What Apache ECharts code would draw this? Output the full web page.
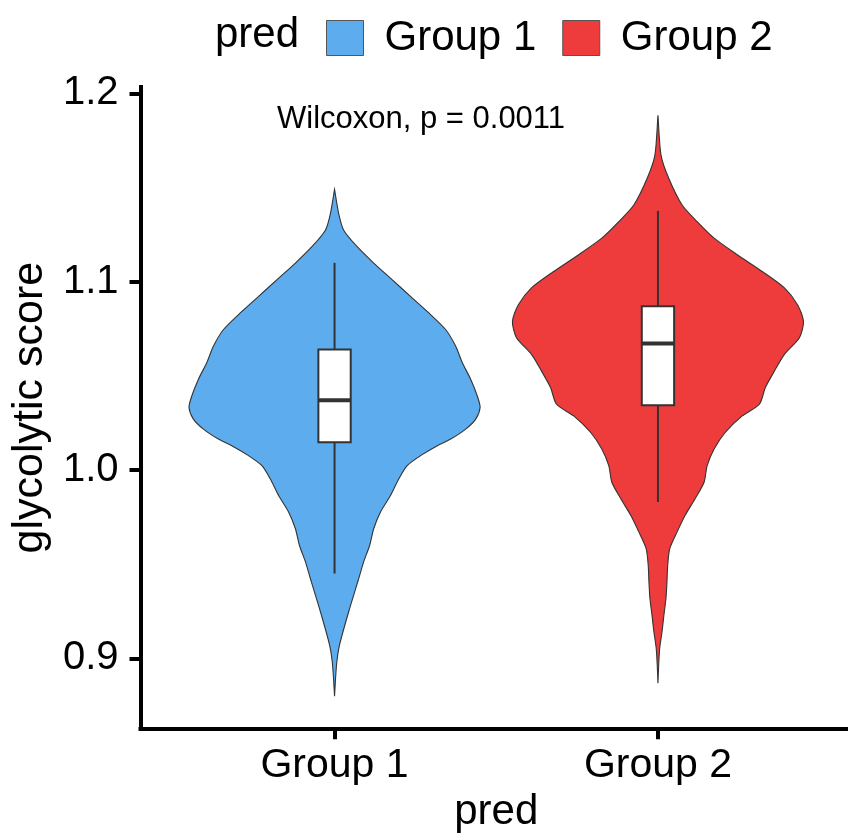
<!DOCTYPE html>
<html>
<head>
<meta charset="utf-8">
<title>glycolytic score by pred</title>
<script src="https://cdn.jsdelivr.net/npm/echarts@6/dist/echarts.min.js"></script>
<style>
  html, body { margin: 0; padding: 0; background: #ffffff; }
  #chart { width: 848px; height: 834px; }
</style>
</head>
<body>
<div id="chart"></div>
<script>
// Groups shown on the x axis and in the legend
const categories = ['Group 1', 'Group 2'];
const groupColors = ['#5CACEE', '#EE3B3B'];

// Kernel density profile of each group: score value -> relative density (peak = 1)
const group1Values = [1.1490, 1.1363, 1.1275, 1.1187, 1.1099, 1.1011, 1.0922, 1.0834, 1.0746, 1.0658,
  1.0570, 1.0481, 1.0393, 1.0332, 1.0270, 1.0217, 1.0164, 1.0129, 1.0076, 1.0023,
  0.9952, 0.9864, 0.9776, 0.9688, 0.9599, 0.9512, 0.9423, 0.9247, 0.9070, 0.8983, 0.8894, 0.8799];
const group1Density = [0, 0.028, 0.062, 0.154, 0.269, 0.395, 0.522, 0.648, 0.763, 0.832,
  0.878, 0.936, 0.981, 1.0, 0.970, 0.901, 0.798, 0.706, 0.591, 0.499,
  0.441, 0.384, 0.315, 0.269, 0.241, 0.200, 0.166, 0.097, 0.034, 0.016, 0.007, 0];

const group2Values = [1.1884, 1.1672, 1.1549, 1.1407, 1.1319, 1.1231, 1.1143, 1.1054, 1.0967, 1.0878,
  1.0790, 1.0702, 1.0614, 1.0525, 1.0438, 1.0349, 1.0287, 1.0199, 1.0111, 1.0023,
  0.9935, 0.9847, 0.9758, 0.9670, 0.9582, 0.9494, 0.9406, 0.9317, 0.9229, 0.9141,
  0.9053, 0.8965, 0.8868];
const group2Density = [0, 0.021, 0.074, 0.166, 0.269, 0.386, 0.545, 0.717, 0.869, 0.959,
  1.0, 0.972, 0.869, 0.800, 0.738, 0.697, 0.579, 0.462, 0.386, 0.338,
  0.317, 0.255, 0.186, 0.131, 0.081, 0.067, 0.062, 0.055, 0.041, 0.028,
  0.012, 0.005, 0];

// Box statistics: [lower whisker, Q1, median, Q3, upper whisker]
const group1Box = [0.945, 1.0147, 1.037, 1.064, 1.110];
const group2Box = [0.983, 1.0344, 1.0672, 1.0869, 1.1376];

// Axis ticks and test annotation
const yTicks = [0.9, 1.0, 1.1, 1.2];
const xTicks = [1, 2];
const testLabel = 'Wilcoxon, p = 0.0011';

const FONT = '"Liberation Sans", Arial, Helvetica, sans-serif';
const VIOLIN_HALF = 0.45;   // half of the violin width in category units
const BOX_HALF = 0.05;      // half of the box width in category units

const profiles = [
  { values: group1Values, density: group1Density, box: group1Box },
  { values: group2Values, density: group2Density, box: group2Box }
];

function violinRenderer(profile) {
  return function (params, api) {
    const cx = api.value(0);
    const right = [];
    const left = [];
    for (let i = 0; i < profile.values.length; i++) {
      const w = VIOLIN_HALF * profile.density[i];
      right.push(api.coord([cx + w, profile.values[i]]));
      left.push(api.coord([cx - w, profile.values[i]]));
    }
    const points = right.concat(left.reverse());
    return {
      type: 'polygon',
      shape: { points: points, smooth: 0.25 },
      style: { fill: api.visual('color'), stroke: '#333333', lineWidth: 1.1 }
    };
  };
}

function boxRenderer(params, api) {
  const cx = api.value(0);
  const b = profiles[params.dataIndex].box;
  const stroke = '#333333';
  const tl = api.coord([cx - BOX_HALF, b[3]]);
  const br = api.coord([cx + BOX_HALF, b[1]]);
  const top = api.coord([cx, b[4]]);
  const q3 = api.coord([cx, b[3]]);
  const q1 = api.coord([cx, b[1]]);
  const low = api.coord([cx, b[0]]);
  const medL = api.coord([cx - BOX_HALF, b[2]]);
  const medR = api.coord([cx + BOX_HALF, b[2]]);
  return {
    type: 'group',
    children: [
      { type: 'line', shape: { x1: top[0], y1: top[1], x2: q3[0], y2: q3[1] },
        style: { stroke: stroke, lineWidth: 2 } },
      { type: 'line', shape: { x1: q1[0], y1: q1[1], x2: low[0], y2: low[1] },
        style: { stroke: stroke, lineWidth: 2 } },
      { type: 'rect', shape: { x: tl[0], y: tl[1], width: br[0] - tl[0], height: br[1] - tl[1] },
        style: { fill: '#ffffff', stroke: stroke, lineWidth: 2 } },
      { type: 'line', shape: { x1: medL[0], y1: medL[1], x2: medR[0], y2: medR[1] },
        style: { stroke: stroke, lineWidth: 4 } }
    ]
  };
}

const chart = echarts.init(document.getElementById('chart'), null, { renderer: 'canvas' });

const axisLine = { show: true, lineStyle: { color: '#000', width: 4, cap: 'square' } };
const axisTick = { show: true, inside: false, length: 11, lineStyle: { color: '#000', width: 4 } };

const option = {
  backgroundColor: '#ffffff',
  animation: false,
  textStyle: { fontFamily: FONT },
  title: {
    text: 'pred',
    left: 210,
    top: 9,
    textStyle: { fontFamily: FONT, fontSize: 42, fontWeight: 'normal', color: '#000' }
  },
  legend: {
    data: categories,
    left: 321,
    top: 12,
    icon: 'rect',
    itemWidth: 37,
    itemHeight: 35,
    itemGap: 26,
    itemStyle: { borderColor: '#555', borderWidth: 1 },
    textStyle: { fontFamily: FONT, fontSize: 42, color: '#000', padding: [0, 0, 0, 16] }
  },
  grid: {
    left: 140.5, top: 87, width: 711.5, bottom: 105.7,
    containLabel: false,
    outerBoundsMode: 'none'
  },
  xAxis: {
    type: 'value',
    min: 0.4,
    max: 2.6,
    splitLine: { show: false },
    axisLine: axisLine,
    axisTick: Object.assign({ customValues: xTicks }, axisTick),
    axisLabel: {
      customValues: xTicks,
      margin: 17,
      fontFamily: FONT,
      fontSize: 41,
      color: '#000',
      formatter: function (v) { return categories[Math.round(v) - 1] || ''; }
    },
    name: 'pred',
    nameLocation: 'middle',
    nameGap: 62,
    nameTextStyle: { fontFamily: FONT, fontSize: 42, color: '#000' }
  },
  yAxis: {
    type: 'value',
    min: 0.8628,
    max: 1.2034,
    splitLine: { show: false },
    axisLine: axisLine,
    axisTick: Object.assign({ customValues: yTicks }, axisTick),
    axisLabel: {
      customValues: yTicks,
      margin: 22,
      fontFamily: FONT,
      fontSize: 40,
      color: '#000',
      formatter: function (v) { return v.toFixed(1); }
    },
    name: 'glycolytic score',
    nameLocation: 'middle',
    nameGap: 80,
    nameRotate: 90,
    nameTextStyle: { fontFamily: FONT, fontSize: 43, color: '#000' }
  },
  series: [
    {
      name: categories[0],
      type: 'custom',
      itemStyle: { color: groupColors[0], borderColor: '#555', borderWidth: 1 },
      renderItem: violinRenderer(profiles[0]),
      data: [[1, group1Box[2]]],
      encode: { x: 0, y: 1 },
      z: 2
    },
    {
      name: categories[1],
      type: 'custom',
      itemStyle: { color: groupColors[1], borderColor: '#555', borderWidth: 1 },
      renderItem: violinRenderer(profiles[1]),
      data: [[2, group2Box[2]]],
      encode: { x: 0, y: 1 },
      z: 2
    },
    {
      name: 'box',
      type: 'custom',
      renderItem: boxRenderer,
      data: [[1, group1Box[2]], [2, group2Box[2]]],
      encode: { x: 0, y: 1 },
      z: 3
    }
  ]
};

chart.setOption(option);

// Test annotation anchored in data coordinates above the first group
const anchor = chart.convertToPixel({ gridIndex: 0 }, [0.822, 1.1864]);
chart.setOption({
  graphic: [{
    type: 'text',
    x: anchor[0],
    y: anchor[1],
    style: {
      text: testLabel,
      fontFamily: FONT,
      fontSize: 31,
      fill: '#000',
      align: 'left',
      verticalAlign: 'middle'
    }
  }]
});
</script>
</body>
</html>
